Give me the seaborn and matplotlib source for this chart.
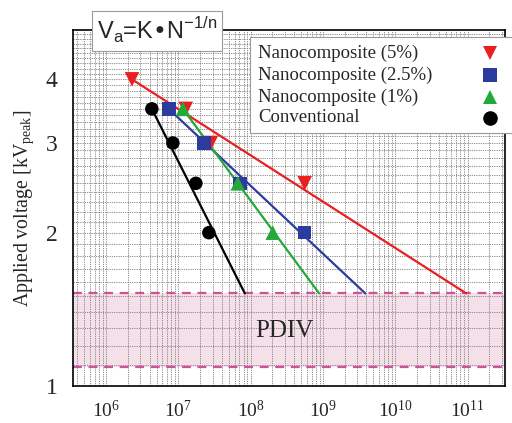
import numpy as np
import pandas as pd
import matplotlib
matplotlib.use("Agg")
import matplotlib.pyplot as plt
from matplotlib.lines import Line2D
from matplotlib.patches import Rectangle
from matplotlib.ticker import FixedLocator, FixedFormatter, NullFormatter, LogLocator
import seaborn as sns

# ---- data ----
series = ["Nanocomposite (5%)", "Nanocomposite (2.5%)", "Nanocomposite (1%)", "Conventional"]
n5_N = [2.29e6, 1.27e7, 2.82e7, 5.6e8]
n5_V = [4.0, 3.5, 3.0, 2.5]
n25_N = [7.4e6, 2.26e7, 7.1e7, 5.6e8]
n25_V = [3.5, 3.0, 2.5, 2.0]
n1_N = [1.16e7, 6.65e7, 2.03e8]
n1_V = [3.5, 2.5, 2.0]
conv_N = [4.31e6, 8.41e6, 1.75e7, 2.65e7]
conv_V = [3.5, 3.0, 2.5, 2.0]
fit_n = [11.0, 7.5, 5.2, 3.55]          # exponent n of Va = K * N^(-1/n)
pdiv_low, pdiv_high = 1.09, 1.52
y_ticks = [1, 2, 3, 4]

colors = {series[0]: "#e8201f", series[1]: "#2c3c9e", series[2]: "#25a83a", series[3]: "#000000"}
markers = {series[0]: "v", series[1]: "s", series[2]: "^", series[3]: "o"}
sizes = {series[0]: 110, series[1]: 95, series[2]: 110, series[3]: 95}

Ns = [n5_N, n25_N, n1_N, conv_N]
Vs = [n5_V, n25_V, n1_V, conv_V]

sns.set_style("white")
plt.rcParams["font.family"] = ["Liberation Serif", "DejaVu Serif"]
plt.rcParams["mathtext.fontset"] = "custom"
plt.rcParams["mathtext.rm"] = "Liberation Serif"
plt.rcParams["mathtext.it"] = "Liberation Serif:italic"

fig = plt.figure(figsize=(5.12, 4.23), dpi=100)
ax = fig.add_axes([73 / 512, 1 - 386 / 423, (505 - 73) / 512, (386 - 30) / 423])

# PDIV band
ax.axhspan(pdiv_low, pdiv_high, color="#f5e0ea", zorder=0.5, lw=0)
for v in (pdiv_low, pdiv_high):
    ax.axhline(v, color="#d0509c", lw=1.6, dashes=(4, 3), zorder=1.2)

# fitted power-law lines: from first point down to PDIV upper level
line_rows = []
for s, N, V, n in zip(series, Ns, Vs, fit_n):
    N0, V0 = N[0], V[0]
    N_end = N0 * (V0 / pdiv_high) ** n
    line_rows.append(pd.DataFrame({"N": [N0, N_end], "V": [V0, pdiv_high], "Sample": s}))
lines_df = pd.concat(line_rows, ignore_index=True)
for s in [series[3], series[0], series[1], series[2]]:
    sns.lineplot(data=lines_df[lines_df.Sample == s], x="N", y="V", color=colors[s],
                 lw=1.6, sort=False, estimator=None, ax=ax, zorder=2, legend=False)

# markers
order = [series[3], series[0], series[1], series[2]]
pts = pd.concat([pd.DataFrame({"N": Ns[series.index(s)], "V": Vs[series.index(s)], "Sample": s})
                 for s in order], ignore_index=True)
sns.scatterplot(data=pts, x="N", y="V", hue="Sample", style="Sample", size="Sample",
                palette=colors, markers=markers, sizes=sizes, linewidth=0,
                legend=False, ax=ax, zorder=3)

ax.set_xscale("log")
ax.set_yscale("log")
ax.set_xlim(3.5e5, 3.3e11)
ax.set_ylim(1, 5)

ax.xaxis.set_major_locator(LogLocator(base=10, numticks=20))
ax.xaxis.set_minor_locator(LogLocator(base=10, subs=np.arange(2, 10), numticks=100))
ax.xaxis.set_minor_formatter(NullFormatter())
ax.yaxis.set_major_locator(FixedLocator(y_ticks))
ax.yaxis.set_major_formatter(FixedFormatter([str(t) for t in y_ticks]))
minor_y = [round(v, 1) for v in np.arange(1.1, 5.0, 0.1) if abs(v - round(v)) > 1e-6]
ax.yaxis.set_minor_locator(FixedLocator(minor_y))
ax.yaxis.set_minor_formatter(NullFormatter())

ax.grid(True, which="both", color="#808080", lw=0.6, ls=(0, (1.5, 1.2)), zorder=1)
ax.set_axisbelow(True)
ax.tick_params(axis="both", which="both", direction="in", color="black")
ax.tick_params(axis="x", which="major", length=9, width=1, labelsize=14, pad=10)
ax.tick_params(axis="x", which="minor", length=5, width=0.9)
ax.tick_params(axis="y", which="major", length=6, width=1, labelsize=17, pad=11)
ax.tick_params(axis="y", which="minor", length=4, width=0.9)
for sp in ax.spines.values():
    sp.set_color("black")
    sp.set_linewidth(1.2)

ax.set_xlabel("")
ax.set_ylabel("Applied voltage [kV$_\\mathregular{peak}$]", fontsize=14.3)
ax.yaxis.set_label_coords((36 - 73) / 432, 0.5)

ax.text(2.9e8, 1.285, "PDIV", fontsize=18, ha="center", va="center", zorder=4)

# legend box (text left, markers right)
W, H = 512, 423
fig.add_artist(Rectangle((250 / W, 1 - 133 / H), (W - 250) / W + 0.01, (133 - 37) / H,
                         transform=fig.transFigure, fc="white", ec="#9a9a9a", lw=0.8,
                         zorder=5))
row_y = [53, 75, 97, 118]
for s, yy in zip(series, row_y):
    fig.text(258 / W, 1 - yy / H, s, fontsize=13.5, ha="left", va="center", zorder=6)
    fig.add_artist(Line2D([490 / W], [1 - yy / H], transform=fig.transFigure, ls="none",
                          marker=markers[s], color=colors[s], markersize=10.5,
                          markeredgewidth=0, zorder=6))

# equation box
fig.text(157 / W, 1 - 31 / H, "V$_\\mathregular{a}$=K\u2022N$^\\mathregular{-1/n}$",
         family=["Liberation Sans", "DejaVu Sans"], fontsize=17, ha="center", va="center",
         math_fontfamily="dejavusans",
         bbox=dict(boxstyle="square,pad=0.22", fc="white", ec="#9a9a9a", lw=0.8), zorder=7)

fig.savefig("out.png", dpi=100, facecolor="white")
